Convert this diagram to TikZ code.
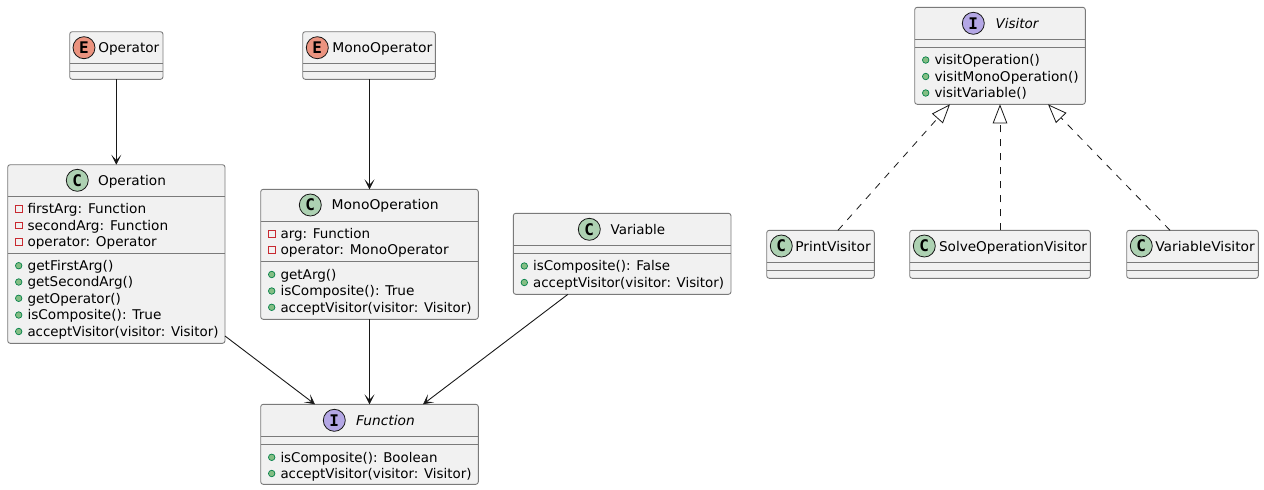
\documentclass[tikz,border=0pt]{standalone}
\usepackage{graphicx}
\usepackage{fontspec}
\setmainfont{DejaVu Sans}
\newfontfamily\iconfont{DejaVu Sans Mono}
\usetikzlibrary{arrows.meta,calc}
\definecolor{boxfill}{HTML}{F1F1F1}
\definecolor{boxedge}{HTML}{7A7A7A}
\definecolor{inkdark}{HTML}{181818}
\definecolor{iconC}{HTML}{ADD1B2}
\definecolor{iconE}{HTML}{EB937F}
\definecolor{iconI}{HTML}{B4A7E5}
\definecolor{pubfill}{HTML}{84BE84}
\definecolor{pubedge}{HTML}{038048}
\definecolor{privedge}{HTML}{C82930}
\tikzset{
  x=1pt,y=-1pt,
  umlbox/.style={draw=boxedge,fill=boxfill,line width=0.9pt,rounded corners=2.5pt,inner sep=0pt,outer sep=0pt},
  divider/.style={draw=boxedge,line width=0.9pt},
  badge/.style={circle,draw=inkdark,line width=0.8pt,minimum size=22pt,inner sep=0pt,outer sep=0pt,font=\iconfont\bfseries\fontsize{16}{16}\selectfont,text=black},
  label/.style={anchor=base west,inner sep=0pt,outer sep=0pt,text=black,font=\fontsize{13.4}{16}\selectfont},
  titleital/.style={label,font=\fontsize{13.4}{16}\selectfont\itshape},
  pubmark/.style={circle,draw=pubedge,fill=pubfill,line width=0.7pt,minimum size=6.5pt,inner sep=0pt},
  privmark/.style={rectangle,draw=privedge,line width=0.8pt,minimum size=6.5pt,inner sep=0pt},
  assoc/.style={draw=inkdark,line width=0.9pt,-{Stealth[length=10pt,width=10pt,inset=5.5pt,line width=0.6pt,color=inkdark]}},
  realize/.style={draw=inkdark,line width=0.8pt,dash pattern=on 7pt off 7pt,-{Triangle[open,length=19pt,width=14.5pt,fill=white]}},
}
% text set to a given width
\newcommand{\fitw}[2]{\resizebox{#1pt}{\height}{#2}}
% name, left, top, right, bottom, badge x, badge y, badge colour, letter
\newcommand{\umlclass}[9]{%
  \pgfmathsetmacro{\bw}{#4-#2}\pgfmathsetmacro{\bh}{#5-#3}%
  \node[umlbox,minimum width=\bw pt,minimum height=\bh pt] (#1) at ({(#2+#4)/2},{(#3+#5)/2}) {};%
  \node[badge,fill=#8] (#1-badge) at (#6,#7) {#9};%
}
% name, y
\newcommand{\umlline}[2]{\draw[divider] (#1.west |- 0,#2) -- (#1.east |- 0,#2);}
% box name, key, mark style, left, row-centre y, width, text
\newcommand{\umlrow}[7]{%
  \node[#3] (#1-#2-mark) at (#4+11,#5) {};%
  \node[label] (#1-#2) at (#4+19.8,#5+4.8) {\fitw{#6}{#7}};%
}
\begin{document}
\begin{tikzpicture}
\useasboundingbox (0,0) rectangle (1264,490);

% Operator
\umlclass{Operator}{69.7}{31.7}{163}{79.3}{84}{47.7}{iconE}{E}
\umlline{Operator}{63.3}\umlline{Operator}{71.3}
\node[label] (Operator-title) at (98.3,52.5) {\fitw{61}{Operator}};

% MonoOperator
\umlclass{MonoOperator}{302.7}{31.7}{435.3}{79.3}{317.3}{47.7}{iconE}{E}
\umlline{MonoOperator}{63.3}\umlline{MonoOperator}{71.3}
\node[label] (MonoOperator-title) at (332.3,52.5) {\fitw{100}{MonoOperator}};

% Operation
\umlclass{Operation}{7.7}{164.7}{225}{343.3}{77.3}{180.3}{iconC}{C}
\umlline{Operation}{196.3}\umlline{Operation}{253.3}
\node[label] (Operation-title) at (98,185.2) {\fitw{68}{Operation}};
\umlrow{Operation}{a}{privmark}{7.7}{209}{118.7}{firstArg: Function}
\umlrow{Operation}{b}{privmark}{7.7}{225.3}{140.7}{secondArg: Function}
\umlrow{Operation}{c}{privmark}{7.7}{241.7}{129.2}{operator: Operator}
\umlrow{Operation}{d}{pubmark}{7.7}{265.7}{86}{getFirstArg()}
\umlrow{Operation}{e}{pubmark}{7.7}{282}{105.7}{getSecondArg()}
\umlrow{Operation}{f}{pubmark}{7.7}{298.3}{93.4}{getOperator()}
\umlrow{Operation}{g}{pubmark}{7.7}{315}{134}{isComposite(): True}
\umlrow{Operation}{h}{pubmark}{7.7}{331.5}{191}{acceptVisitor(visitor: Visitor)}

% MonoOperation
\umlclass{MonoOperation}{260.7}{189.3}{478.3}{319.3}{310.3}{205}{iconC}{C}
\umlline{MonoOperation}{221.3}\umlline{MonoOperation}{261.3}
\node[label] (MonoOperation-title) at (331.7,209.9) {\fitw{107}{MonoOperation}};
\umlrow{MonoOperation}{a}{privmark}{260.7}{234}{89.7}{arg: Function}
\umlrow{MonoOperation}{b}{privmark}{260.7}{250}{168.3}{operator: MonoOperator}
\umlrow{MonoOperation}{c}{pubmark}{260.7}{274.5}{56}{getArg()}
\umlrow{MonoOperation}{d}{pubmark}{260.7}{291}{134}{isComposite(): True}
\umlrow{MonoOperation}{e}{pubmark}{260.7}{307.3}{191}{acceptVisitor(visitor: Visitor)}

% Variable
\umlclass{Variable}{513.3}{213.3}{731}{294.3}{589.3}{229.3}{iconC}{C}
\umlline{Variable}{245.3}\umlline{Variable}{253.3}
\node[label] (Variable-title) at (610.7,234.2) {\fitw{54.5}{Variable}};
\umlrow{Variable}{a}{pubmark}{513.3}{266}{137}{isComposite(): False}
\umlrow{Variable}{b}{pubmark}{513.3}{282.5}{191}{acceptVisitor(visitor: Visitor)}

% Function
\umlclass{Function}{260.7}{404.3}{478.3}{484.3}{334.3}{420.3}{iconI}{I}
\umlline{Function}{436}\umlline{Function}{444}
\node[titleital] (Function-title) at (356,425.2) {\fitw{58.7}{Function}};
\umlrow{Function}{a}{pubmark}{260.7}{457.3}{157}{isComposite(): Boolean}
\umlrow{Function}{b}{pubmark}{260.7}{473.5}{191}{acceptVisitor(visitor: Visitor)}

% Visitor
\umlclass{Visitor}{914.7}{7.3}{1085.3}{104.3}{973.3}{23.3}{iconI}{I}
\umlline{Visitor}{39.3}\umlline{Visitor}{47.3}
\node[titleital] (Visitor-title) at (995.7,28.2) {\fitw{42.7}{Visitor}};
\umlrow{Visitor}{a}{pubmark}{914.7}{60}{105.3}{visitOperation()}
\umlrow{Visitor}{b}{pubmark}{914.7}{76.5}{144.3}{visitMonoOperation()}
\umlrow{Visitor}{c}{pubmark}{914.7}{93}{92.3}{visitVariable()}

% PrintVisitor
\umlclass{PrintVisitor}{766.7}{230.3}{874.3}{278.3}{781.3}{246}{iconC}{C}
\umlline{PrintVisitor}{262.3}\umlline{PrintVisitor}{270.3}
\node[label] (PrintVisitor-title) at (795.3,251) {\fitw{75.5}{PrintVisitor}};

% SolveOperationVisitor
\umlclass{SolveOperationVisitor}{909.7}{230.3}{1090.3}{278.3}{924.3}{246}{iconC}{C}
\umlline{SolveOperationVisitor}{262.3}\umlline{SolveOperationVisitor}{270.3}
\node[label] (SolveOperationVisitor-title) at (939,251) {\fitw{148}{SolveOperationVisitor}};

% VariableVisitor
\umlclass{VariableVisitor}{1126.7}{230.3}{1258.3}{278.3}{1141.3}{246}{iconC}{C}
\umlline{VariableVisitor}{262.3}\umlline{VariableVisitor}{270.3}
\node[label] (VariableVisitor-title) at (1155.3,251) {\fitw{99.5}{VariableVisitor}};

% Connectors
\draw[assoc] (Operation.north |- Operator.south) -- (Operation.north);
\draw[assoc] (MonoOperation.north |- MonoOperator.south) -- (MonoOperation.north);
\draw[assoc] ([yshift=7.3pt]Operation.south east) -- ([xshift=-54.5pt]Function.north);
\draw[assoc] (MonoOperation.south) -- (Function.north);
\draw[assoc] ([xshift=-54.2pt]Variable.south) -- ([xshift=53.5pt]Function.north);
\draw[realize] ([xshift=17.5pt]PrintVisitor.north) -- ([xshift=-50pt]Visitor.south);
\draw[realize] (SolveOperationVisitor.north) -- (Visitor.south);
\draw[realize] ([xshift=-22.5pt]VariableVisitor.north) -- ([xshift=48pt]Visitor.south);
\end{tikzpicture}
\end{document}
